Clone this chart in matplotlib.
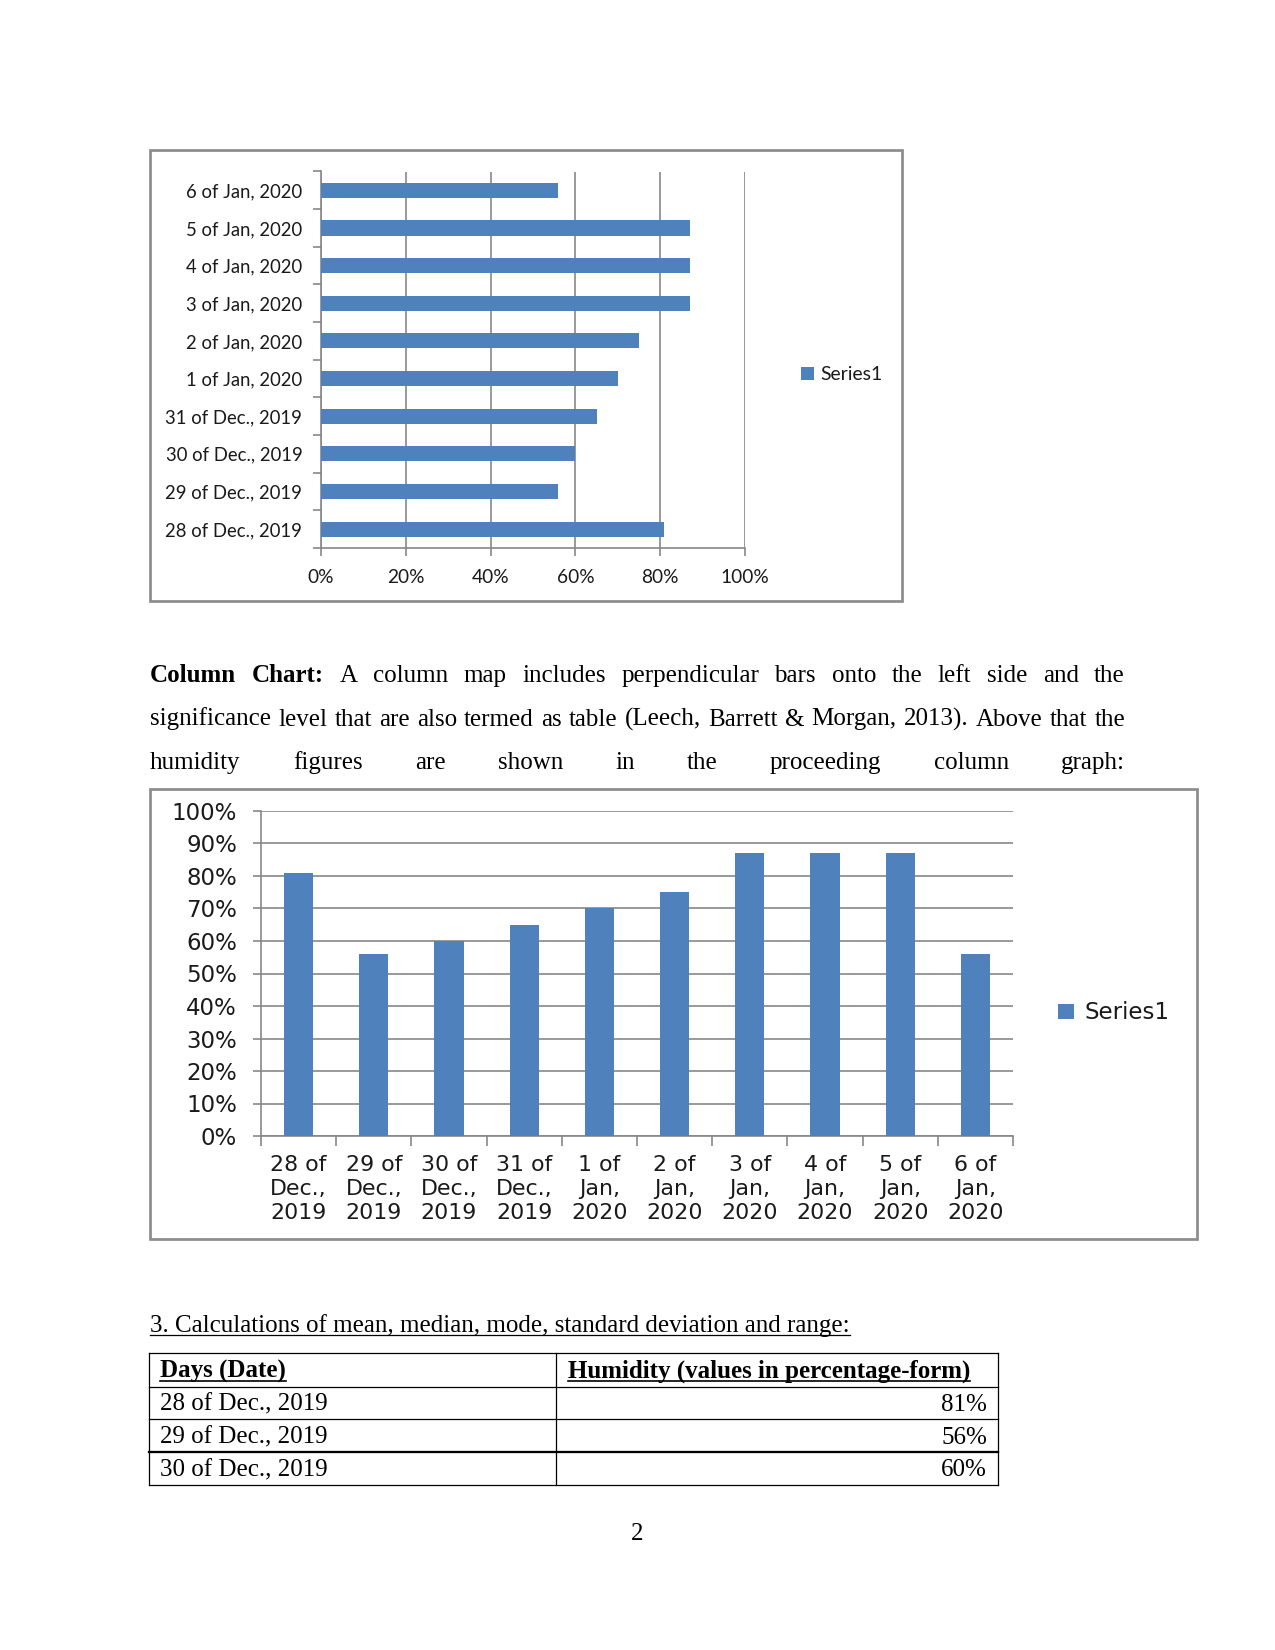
import matplotlib
matplotlib.use('Agg')
import matplotlib.pyplot as plt
from matplotlib.patches import Rectangle
from matplotlib.lines import Line2D

W, H = 1275, 1650

# ---------------- data ----------------
dates = ["28 of Dec., 2019", "29 of Dec., 2019", "30 of Dec., 2019", "31 of Dec., 2019",
         "1 of Jan, 2020", "2 of Jan, 2020", "3 of Jan, 2020", "4 of Jan, 2020",
         "5 of Jan, 2020", "6 of Jan, 2020"]
column_labels = ["28 of\nDec.,\n2019", "29 of\nDec.,\n2019", "30 of\nDec.,\n2019", "31 of\nDec.,\n2019",
                 "1 of\nJan,\n2020", "2 of\nJan,\n2020", "3 of\nJan,\n2020", "4 of\nJan,\n2020",
                 "5 of\nJan,\n2020", "6 of\nJan,\n2020"]
humidity = [81, 56, 60, 65, 70, 75, 87, 87, 87, 56]
bar_ticks = [0, 20, 40, 60, 80, 100]
column_ticks = [0, 10, 20, 30, 40, 50, 60, 70, 80, 90, 100]
series_name = "Series1"

para_lines = [
    [("Column", True), ("Chart:", True), ("A", False), ("column", False), ("map", False),
     ("includes", False), ("perpendicular", False), ("bars", False), ("onto", False),
     ("the", False), ("left", False), ("side", False), ("and", False), ("the", False)],
    [(w, False) for w in "significance level that are also termed as table (Leech, Barrett & Morgan, 2013). Above that the".split()],
    [(w, False) for w in "humidity figures are shown in the proceeding column graph:".split()],
]
heading = "3. Calculations of mean, median, mode, standard deviation and range:"
table_header = ["Days (Date)", "Humidity (values in percentage-form)"]
table_dates = dates[:3]
table_values = humidity[:3]
page_number = "2"

BLUE = '#4F81BD'
GRID = '#878787'
BORDER = '#8c8c8c'
TXT = '#1a1a1a'
SERIF = 'Liberation Serif'

fig = plt.figure(figsize=(W / 150, H / 150), dpi=150)
renderer = fig.canvas.get_renderer()


def fx(x):
    return x / W


def fy(y):
    return 1 - y / H


def axes_px(l, t, r, b):
    return fig.add_axes([l / W, 1 - b / H, (r - l) / W, (b - t) / H])


def box(l, t, r, b, color=BORDER, lw=1.3):
    fig.patches.append(Rectangle((fx(l), fy(b)), (r - l) / W, (b - t) / H,
                                 transform=fig.transFigure, fill=False, ec=color, lw=lw))


def hline(x0, x1, y, lw=0.7, color='black'):
    fig.add_artist(Line2D([fx(x0), fx(x1)], [fy(y), fy(y)], transform=fig.transFigure,
                          color=color, lw=lw))


def vline(x, y0, y1, lw=0.7, color='black'):
    fig.add_artist(Line2D([fx(x), fx(x)], [fy(y0), fy(y1)], transform=fig.transFigure,
                          color=color, lw=lw))


def text_width(s, bold=False, size=12):
    t = fig.text(0, 0, s, fontsize=size, family=SERIF, weight='bold' if bold else 'normal')
    w = t.get_window_extent(renderer).width
    t.remove()
    return w


def justified(words, x0, x1, ybase, size=12):
    widths = [text_width(w, b, size) for w, b in words]
    gap = (x1 - x0 - sum(widths)) / (len(words) - 1)
    x = x0
    for (w, b), wd in zip(words, widths):
        fig.text(fx(x), fy(ybase), w, fontsize=size, family=SERIF,
                 weight='bold' if b else 'normal', va='baseline', ha='left', color='black')
        x += wd + gap


def underlined(s, x, ybase, bold=False, size=12, ha='left'):
    fig.text(fx(x), fy(ybase), s, fontsize=size, family=SERIF,
             weight='bold' if bold else 'normal', va='baseline', ha=ha, color='black')
    w = text_width(s, bold, size)
    hline(x, x + w, ybase + 3, lw=0.6 if not bold else 0.8)


# ---------------- top chart: horizontal bars ----------------
box(150, 150, 902, 601)
ax1 = axes_px(321, 171.5, 745, 548)
ax1.barh(range(len(dates)), humidity, height=0.4, color=BLUE, zorder=3, label=series_name)
ax1.set_xlim(0, 100)
ax1.set_ylim(-0.5, len(dates) - 0.5)
ax1.set_xticks(bar_ticks)
ax1.set_xticklabels([f"{v}%" for v in bar_ticks])
ax1.set_yticks(range(len(dates)))
ax1.set_yticklabels(dates)
ax1.set_yticks([i - 0.5 for i in range(len(dates) + 1)], minor=True)
ax1.tick_params(axis='y', which='major', length=0, pad=9, labelsize=8.9, labelcolor=TXT)
ax1.tick_params(axis='y', which='minor', length=4, color=GRID, width=0.8, direction='out')
ax1.tick_params(axis='x', which='major', length=4, color=GRID, width=0.8, pad=6,
                labelsize=9.2, labelcolor=TXT)
for lab in ax1.get_xticklabels() + ax1.get_yticklabels():
    lab.set_family('Lato')
ax1.xaxis.grid(True, color=GRID, lw=0.8, zorder=0)
ax1.set_axisbelow(True)
for s in ['top', 'right']:
    ax1.spines[s].set_visible(False)
for s in ['left', 'bottom']:
    ax1.spines[s].set_color(GRID)
    ax1.spines[s].set_linewidth(0.8)
leg1 = ax1.legend(loc='center left', bbox_to_anchor=(fx(801), fy(374.5)),
                  bbox_transform=fig.transFigure, frameon=False, handlelength=0.65,
                  handleheight=0.65, handletextpad=0.35, borderaxespad=0, borderpad=0,
                  prop={'family': 'Lato', 'size': 9.3})
for t in leg1.get_texts():
    t.set_color(TXT)

# ---------------- paragraph ----------------
line_y = [682, 725.5, 768.5]
for words, yb in zip(para_lines, line_y):
    justified(words, 150, 1125, yb)

# ---------------- bottom chart: columns ----------------
box(150, 789, 1197, 1239)
ax2 = axes_px(261, 811, 1013, 1136)
ax2.bar(range(len(dates)), humidity, width=0.39, color=BLUE, zorder=3, label=series_name)
ax2.set_xlim(-0.5, len(dates) - 0.5)
ax2.set_ylim(0, 100)
ax2.set_yticks(column_ticks)
ax2.set_yticklabels([f"{v}%" for v in column_ticks])
ax2.set_xticks(range(len(dates)))
ax2.set_xticklabels(column_labels, linespacing=1.25)
ax2.set_xticks([i - 0.5 for i in range(len(dates) + 1)], minor=True)
ax2.tick_params(axis='x', which='major', length=0, pad=9, labelsize=10.6, labelcolor=TXT)
ax2.tick_params(axis='x', which='minor', length=5, color=GRID, width=0.8, direction='out')
ax2.tick_params(axis='y', which='major', length=4, color=GRID, width=0.8, pad=7.5,
                labelsize=11, labelcolor=TXT)
for lab in ax2.get_xticklabels() + ax2.get_yticklabels():
    lab.set_family('DejaVu Sans')
ax2.yaxis.grid(True, color=GRID, lw=0.8, zorder=0)
ax2.set_axisbelow(True)
for s in ['top', 'right']:
    ax2.spines[s].set_visible(False)
for s in ['left', 'bottom']:
    ax2.spines[s].set_color(GRID)
    ax2.spines[s].set_linewidth(0.8)
leg2 = ax2.legend(loc='center left', bbox_to_anchor=(fx(1058), fy(1013)),
                  bbox_transform=fig.transFigure, frameon=False, handlelength=0.7,
                  handleheight=0.65, handletextpad=0.45, borderaxespad=0, borderpad=0,
                  prop={'family': 'DejaVu Sans', 'size': 11})
for t in leg2.get_texts():
    t.set_color(TXT)

# ---------------- heading ----------------
underlined(heading, 150, 1332)

# ---------------- table ----------------
tx0, tx1, txm = 148.5, 998.5, 555.5
row_y = [1353, 1386.5, 1419, 1452, 1484.5]
for i, y in enumerate(row_y):
    hline(tx0, tx1, y, lw=1.1 if i == 3 else 0.6)
for x in [tx0, txm, tx1]:
    vline(x, row_y[0], row_y[-1], lw=0.6)
underlined(table_header[0], 160, 1378, bold=True)
underlined(table_header[1], 568, 1378, bold=True)
for i, (d, v) in enumerate(zip(table_dates, table_values)):
    yb = (row_y[i + 1] + row_y[i + 2]) / 2 + 8
    fig.text(fx(160), fy(yb), d, fontsize=12, family=SERIF, va='baseline', ha='left')
    fig.text(fx(987), fy(yb), f"{v}%", fontsize=12, family=SERIF, va='baseline', ha='right')

# ---------------- page number ----------------
fig.text(fx(637), fy(1540), page_number, fontsize=12, family=SERIF, va='baseline', ha='center')

fig.savefig('out.png', dpi=150, facecolor='white')
